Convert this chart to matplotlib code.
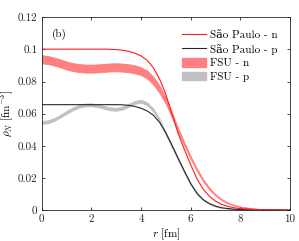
import matplotlib
matplotlib.use("Agg")
import matplotlib.pyplot as plt
import numpy as np
from matplotlib.patches import Patch
from matplotlib.lines import Line2D

plt.rcParams['font.family'] = ['cmr10', 'DejaVu Serif']
plt.rcParams['mathtext.fontset'] = 'cm'
plt.rcParams['axes.unicode_minus'] = False

# ---- data ----
r = [0, 0.25, 0.5, 0.75, 1, 1.25, 1.5, 1.75, 2, 2.25, 2.5, 2.75, 3, 3.25, 3.5, 3.75,
     4, 4.25, 4.5, 4.75, 5, 5.25, 5.5, 5.75, 6, 6.25, 6.5, 6.75, 7, 7.25, 7.5, 7.75,
     8, 8.5, 9, 9.5, 10]
sp_n = [0.1002, 0.1002, 0.1002, 0.1002, 0.1002, 0.1002, 0.1002, 0.1002, 0.1002, 0.1002,
        0.1002, 0.1001, 0.0999,
        0.0995, 0.0988, 0.0977, 0.0960, 0.0932, 0.0885, 0.0815, 0.0720, 0.0595, 0.0475,
        0.0375, 0.0282, 0.0195, 0.0130, 0.0086, 0.0055, 0.0035, 0.0022, 0.0014, 0.0009,
        0.0004, 0.00015, 0.00005, 0.00002]
sp_p = [0.0656, 0.0656, 0.0656, 0.0656, 0.0656, 0.0656, 0.0656, 0.0656, 0.0656, 0.0656,
        0.0656, 0.0656, 0.0656,
        0.0655, 0.0652, 0.0645, 0.0634, 0.0617, 0.0590, 0.0545, 0.0480, 0.0402, 0.0320,
        0.0240, 0.0165, 0.0105, 0.0065, 0.0040, 0.0024, 0.0014, 0.0009, 0.0005, 0.0003,
        0.0001, 0.00004, 0.00001, 0.0]
fsu_n = [0.0939, 0.0934, 0.0925, 0.0913, 0.0900, 0.0890, 0.0884, 0.0881, 0.0880, 0.0882,
         0.0885, 0.0888, 0.0889,
         0.0887, 0.0883, 0.0876, 0.0865, 0.0843, 0.0805, 0.0750, 0.0680, 0.0590, 0.0495,
         0.0408, 0.0325, 0.0250, 0.0185, 0.0133, 0.0093, 0.0064, 0.0044, 0.0030, 0.0020,
         0.0009, 0.0004, 0.00015, 0.00005]
fsu_n_hw = [0.0025] * 19 + [0.0023, 0.0020, 0.0016, 0.0013, 0.0011, 0.0009, 0.0008,
                            0.0007, 0.0006, 0.0005, 0.0004, 0.0003, 0.00025, 0.0002,
                            0.0001, 0.00005, 0.0, 0.0]
fsu_p = [0.0545, 0.0550, 0.0563, 0.0585, 0.0608, 0.0630, 0.0646, 0.0654, 0.0655, 0.0650,
         0.0640, 0.0630, 0.0627,
         0.0635, 0.0652, 0.0670, 0.0678, 0.0660, 0.0622, 0.0558, 0.0475, 0.0395, 0.0315,
         0.0235, 0.0160, 0.0102, 0.0063, 0.0039, 0.0023, 0.0014, 0.0009, 0.0005, 0.0003,
         0.0001, 0.00004, 0.00001, 0.0]
fsu_p_hw = [0.0009] * 21 + [0.0008, 0.0007, 0.0006, 0.0005, 0.0004, 0.0003, 0.0002,
                            0.00015, 0.0001, 0.00008, 0.00005, 0.00003,
                            0.0, 0.0, 0.0, 0.0]

xticks = [0, 2, 4, 6, 8, 10]
yticks = [0, 0.02, 0.04, 0.06, 0.08, 0.1, 0.12]
ytick_labels = ['0', '0.02', '0.04', '0.06', '0.08', '0.1', '0.12']
labels = ['São Paulo - n', 'São Paulo - p', 'FSU - n', 'FSU - p']

fig = plt.figure(figsize=(2.99, 2.41), dpi=100)
ax = fig.add_axes([0.1395, 0.1286, 0.8305, 0.7995])

rs = np.array(r)
fn = np.array(fsu_n); fnh = np.array(fsu_n_hw)
fp = np.array(fsu_p); fph = np.array(fsu_p_hw)

ax.fill_between(rs, fp - fph, fp + fph, color='#c0c0c0', lw=0.6, edgecolor='#c0c0c0')
ax.fill_between(rs, fn - fnh, fn + fnh, color='#ff8080', lw=0.6, edgecolor='#ff8080')
ax.plot(r, sp_p, color='#262626', lw=0.8)
ax.plot(r, sp_n, color='#ff1a1a', lw=0.8)

ax.set_xlim(0, 10)
ax.set_ylim(0, 0.12)
ax.set_xticks(xticks)
ax.set_xticklabels([str(t) for t in xticks])
ax.set_yticks(yticks)
ax.set_yticklabels(ytick_labels)
ax.tick_params(direction='in', top=True, right=True, labelsize=8, length=2.5,
               width=0.6, colors='#262626', pad=3)
for s in ax.spines.values():
    s.set_linewidth(0.6)
    s.set_color('#262626')

ax.set_xlabel(r'$r$ [fm]', fontsize=8, labelpad=2)
ax.set_ylabel(r'$\rho_N$ [fm$^{-3}$]', fontsize=8)
ax.yaxis.set_label_coords(-0.103, 0.5)
ax.text(0.042, 0.913, '(b)', transform=ax.transAxes, fontsize=8, va='center')

handles = [Line2D([], [], color='#ff1a1a', lw=0.8),
           Line2D([], [], color='#262626', lw=0.8),
           Patch(facecolor='#ff8080', edgecolor='#ff8080'),
           Patch(facecolor='#c0c0c0', edgecolor='#c0c0c0')]
ax.legend(handles, labels, loc='upper right', frameon=False, fontsize=8,
          handlelength=2.2, handleheight=0.85, handletextpad=0.3, labelspacing=0.3,
          borderaxespad=0.75)

fig.savefig('out.png', dpi=100)
